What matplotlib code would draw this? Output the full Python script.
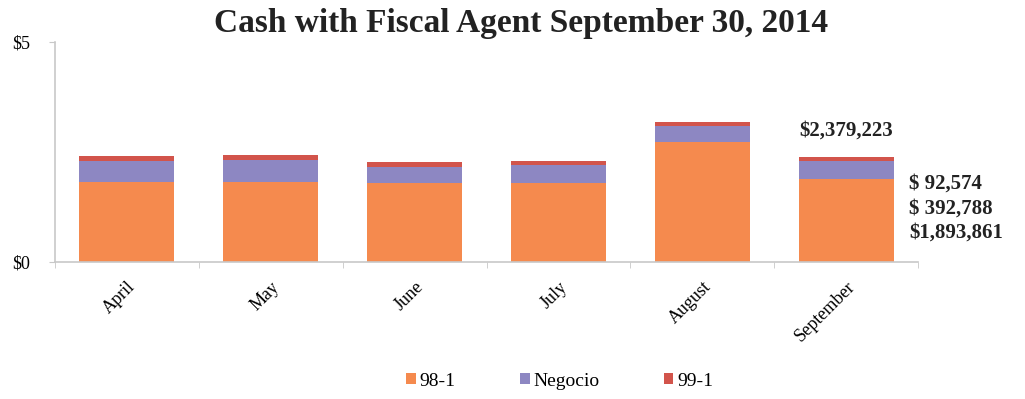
import numpy as np
import matplotlib
matplotlib.use('Agg')
import matplotlib.pyplot as plt

plt.rcParams['font.family'] = ['Liberation Serif', 'DejaVu Serif']

months = ['April', 'May', 'June', 'July', 'August', 'September']
# values in $ millions
s_98_1 = np.array([1.81, 1.81, 1.80, 1.80, 2.72, 1.893861])
negocio = np.array([0.49, 0.51, 0.37, 0.40, 0.37, 0.392788])
s_99_1 = np.array([0.11, 0.11, 0.10, 0.10, 0.10, 0.092574])

c_orange = '#F58A4E'
c_purple = '#8D87C2'
c_red = '#D2544B'

fig = plt.figure(figsize=(10.25, 3.99), dpi=100)
ax = fig.add_axes([0.0537, 0.3434, 0.8419, 0.5513])

x = np.arange(len(months))
w = 0.66
ax.bar(x, s_98_1, w, color=c_orange, label='98-1')
ax.bar(x, negocio, w, bottom=s_98_1, color=c_purple, label='Negocio')
ax.bar(x, s_99_1, w, bottom=s_98_1 + negocio, color=c_red, label='99-1')

ax.set_xlim(-0.5, len(months) - 0.5)
ax.set_ylim(0, 5)
ax.set_yticks([0, 5])
ax.set_yticklabels(['$0', '$5'], fontsize=13)
ax.tick_params(axis='y', length=4, color='#c8c8c8', pad=14)

ax.set_xticks(x)
ax.set_xticklabels(months, rotation=45, ha='right', rotation_mode='anchor',
                   fontsize=13)
ax.tick_params(axis='x', length=0, pad=12)
# small tick marks between categories
ax.set_xticks(np.arange(-0.5, len(months) + 0.5, 1), minor=True)
ax.tick_params(axis='x', which='minor', length=4, color='#c8c8c8')

for side in ['top', 'right']:
    ax.spines[side].set_visible(False)
for side in ['left', 'bottom']:
    ax.spines[side].set_color('#c8c8c8')
    ax.spines[side].set_linewidth(1.2)

fig.suptitle('Cash with Fiscal Agent September 30, 2014', fontsize=24,
             fontweight='bold', color='#222222', x=0.508, y=0.98)

# September annotations
tot = s_98_1[-1] + negocio[-1] + s_99_1[-1]
ax.text(5, tot + 0.38, '$2,379,223', ha='center', va='bottom',
        fontsize=15, fontweight='bold', color='#222222')
ax.text(5.44, 1.78, '$ 92,574', ha='left', va='center', fontsize=15,
        fontweight='bold', color='#222222')
ax.text(5.44, 1.22, '$ 392,788', ha='left', va='center', fontsize=15,
        fontweight='bold', color='#222222')
ax.text(5.44, 0.66, '$1,893,861', ha='left', va='center', fontsize=15,
        fontweight='bold', color='#222222', clip_on=False)

leg = fig.legend(loc='center', bbox_to_anchor=(0.546, 0.045), ncol=3,
                 frameon=False, fontsize=14, handlelength=0.5,
                 handleheight=0.5, handletextpad=0.2, columnspacing=3.3)

fig.savefig('out.png', dpi=100)
